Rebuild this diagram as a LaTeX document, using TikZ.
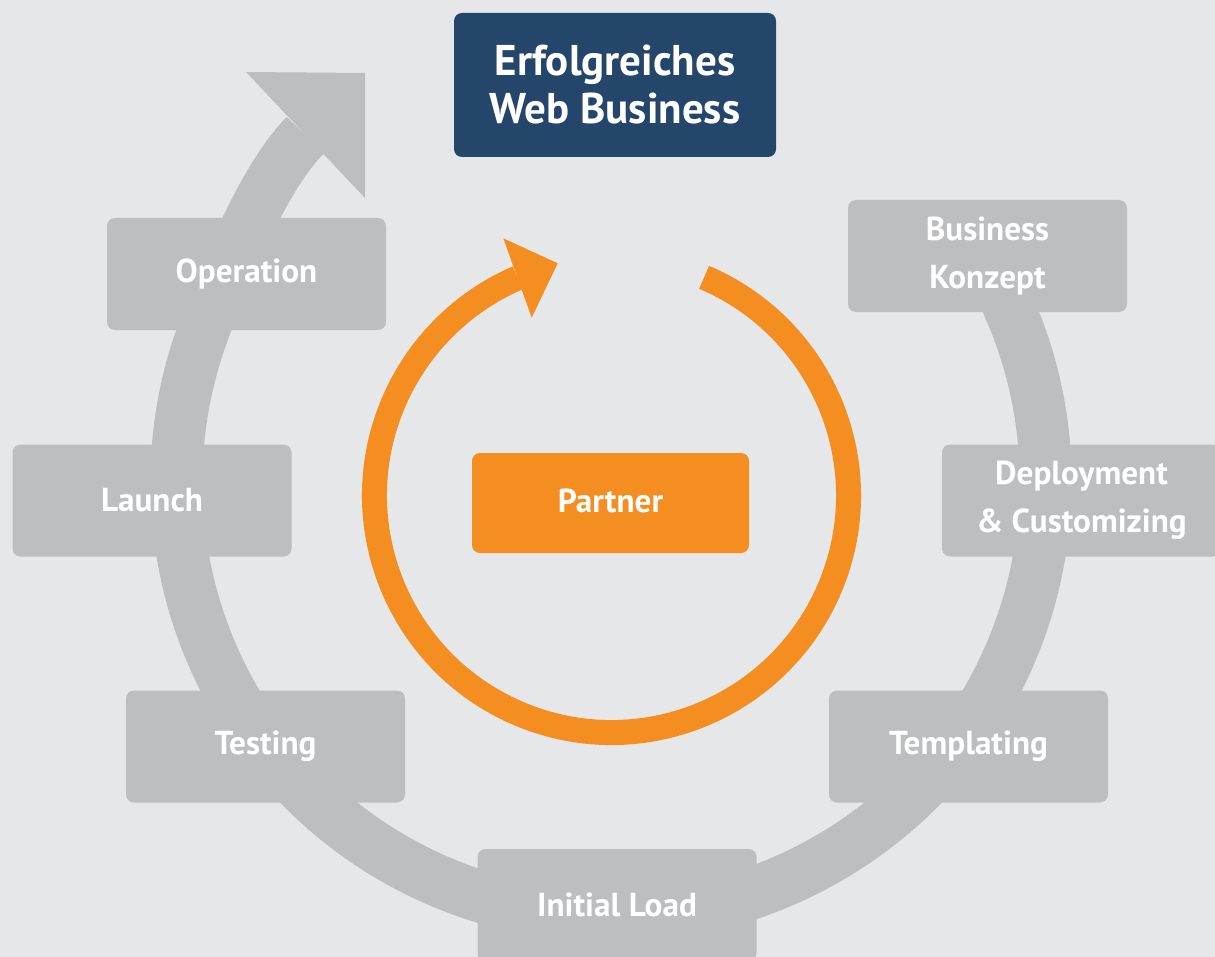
\documentclass[tikz,border=0pt]{standalone}
\usepackage{fontspec}
\setmainfont{PT Sans}
\usetikzlibrary{calc}
\definecolor{bggray}{HTML}{E6E7E8}
\definecolor{boxgray}{HTML}{BCBEC0}
\definecolor{goalblue}{HTML}{24466A}
\definecolor{partnerorange}{HTML}{F48E21}
\tikzset{
	stage/.style={fill=boxgray, rounded corners=4pt, minimum width=139.5pt, minimum height=56pt, inner sep=0pt, text=white, align=center, font=\bfseries\fontsize{16.6}{24}\selectfont},
}

\begin{document}
\begin{tikzpicture}[x=0.5pt, y=-0.5pt]
			%%%%% START %%%%%
			
			\fill[bggray] (0, 0) rectangle (1215, 957);
			\useasboundingbox (0, 0) rectangle (1215, 957);
			
			\draw[boxgray, line width=26pt] ($(611, 482)+(-30:434.6)$) arc[start angle=-30, end angle=200, radius=434.6] .. controls +(20.5, -56.4) and +(-42.4, 42.4) .. (305.5, 135);
			\fill[boxgray] (246, 72) -- (365, 73) -- (365, 198) -- cycle;
			
			\draw[partnerorange, line width=12.5pt] ($(611.5, 495.5)+(-67:237)$) arc[start angle=-67, end angle=246.7, radius=237];
			\fill[partnerorange] (503.3, 238.3) -- (557.7, 263.3) -- (531.7, 317.7) -- cycle;
			
			\node[fill=goalblue, rounded corners=4pt, minimum width=161pt, minimum height=72pt, inner sep=0pt, text=white, align=center, font=\bfseries\fontsize{21.5}{24}\selectfont] (goal) at (615, 85) {Erfolgreiches\\Web Business};
			\node[fill=partnerorange, rounded corners=4pt, minimum width=138.5pt, minimum height=50pt, inner sep=0pt, text=white, font=\bfseries\fontsize{16.6}{24}\selectfont] (partner) at (610.5, 503) {\raisebox{2pt}{Partner}};
			
			\node[stage] (konzept) at (987.5, 256) {\raisebox{1.5pt}{\parbox{130pt}{\centering Business\\Konzept}}};
			\node[stage] (deploy) at (1081.5, 500.5) {Deployment\\\& Customizing};
			\node[stage] (templating) at (968.5, 746.5) {Templating};
			\node[stage] (initial) at (617, 905) {Initial Load};
			\node[stage] (testing) at (265.5, 746.5) {Testing};
			\node[stage] (launch) at (152, 500.5) {Launch};
			\node[stage] (operation) at (246.5, 274) {Operation};
			
			%%%%% END %%%%%
\end{tikzpicture}
\end{document}
